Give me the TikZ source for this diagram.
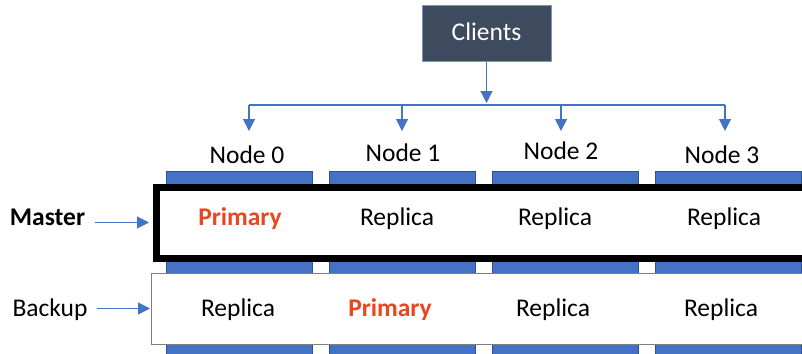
\documentclass[tikz,border=0pt]{standalone}
\usepackage{fontspec}
\setmainfont{Carlito}
\usetikzlibrary{arrows.meta}
\definecolor{cblue}{HTML}{4472C4}
\definecolor{cbluedark}{HTML}{2F528F}
\definecolor{cslate}{HTML}{3E4B5F}
\definecolor{cslateedge}{HTML}{7D93C2}
\definecolor{cred}{HTML}{E9461F}
\definecolor{cgray}{HTML}{7F7F7F}
\tikzset{
  txt/.style={inner sep=0pt, anchor=base, font=\fontsize{25.5}{30}\selectfont},
  boldtxt/.style={txt, font=\fontsize{25.5}{30}\selectfont\bfseries},
  primtxt/.style={boldtxt, text=cred},
  column/.style={fill=cblue, draw=cbluedark, line width=0.6pt, inner sep=0pt, minimum width=146pt, minimum height=200pt, anchor=north west},
  arr/.style={draw=cblue, line width=1.1pt, -{Triangle[length=12pt,width=12pt]}},
  busline/.style={draw=cblue, line width=1.1pt},
  clientbox/.style={fill=cslate, draw=cslateedge, line width=1pt, text=white, inner sep=0pt, minimum width=129pt, minimum height=55pt},
  masterrow/.style={fill=white, draw=black, line width=7pt, inner sep=0pt, anchor=north west, minimum width=677pt, minimum height=71pt},
  backuprow/.style={fill=white, draw=cgray, line width=1pt, inner sep=0pt, anchor=north west, minimum width=680pt, minimum height=71pt},
}
\begin{document}
\begin{tikzpicture}[x=1pt,y=-1pt]
\useasboundingbox (0,0) rectangle (802,353);
\clip (0,0) rectangle (802,353);
% columns
\node[column] (col0) at (166,171) {};
\node[column] (col1) at (329,171) {};
\node[column] (col2) at (492,171) {};
\node[column] (col3) at (655,171) {};
% rows
\node[backuprow] (backup) at (150.5,272.5) {};
\node[masterrow] (master) at (152.5,183.5) {};
% clients
\node[clientbox] (clients) at (486.5,33.5) {};
\node[txt, text=white] (clientstxt) at (486.5,41) {Clients};
% bus
\coordinate (bc) at (486.5,105);
\coordinate (b0) at (249,105);
\coordinate (b1) at (402,105);
\coordinate (b2) at (561,105);
\coordinate (b3) at (725,105);
\coordinate (a0) at (249,131);
\coordinate (a1) at (402,131);
\coordinate (a2) at (561,131);
\coordinate (a3) at (725,131);
\draw[arr] (clients.south) -- ([yshift=2pt]bc);
\draw[busline] (b0) -- (b3);
\draw[arr] (b0) -- (a0);
\draw[arr] (b1) -- (a1);
\draw[arr] (b2) -- (a2);
\draw[arr] (b3) -- (a3);
% node labels
\node[txt] (n0) at (247,163) {Node 0};
\node[txt] (n1) at (403,161) {Node 1};
\node[txt] (n2) at (561,159) {Node 2};
\node[txt] (n3) at (722,163) {Node 3};
% master row texts
\node[primtxt] (m0) at (240,225) {Primary};
\node[txt] (m1) at (397,225) {Replica};
\node[txt] (m2) at (555,225) {Replica};
\node[txt] (m3) at (724,225) {Replica};
% backup row texts
\node[txt] (k0) at (238,316) {Replica};
\node[primtxt] (k1) at (390,316) {Primary};
\node[txt] (k2) at (553,316) {Replica};
\node[txt] (k3) at (721,316) {Replica};
% row labels
\node[boldtxt] (mlabel) at (47.5,225) {Master};
\node[txt] (klabel) at (50,316) {Backup};
\draw[arr] ([xshift=10pt]master.west -| mlabel.east) -- ([xshift=-3.5pt]master.west);
\draw[arr] ([xshift=9pt]backup.west -| klabel.east) -- ([xshift=-0.5pt]backup.west);
\end{tikzpicture}
\end{document}
